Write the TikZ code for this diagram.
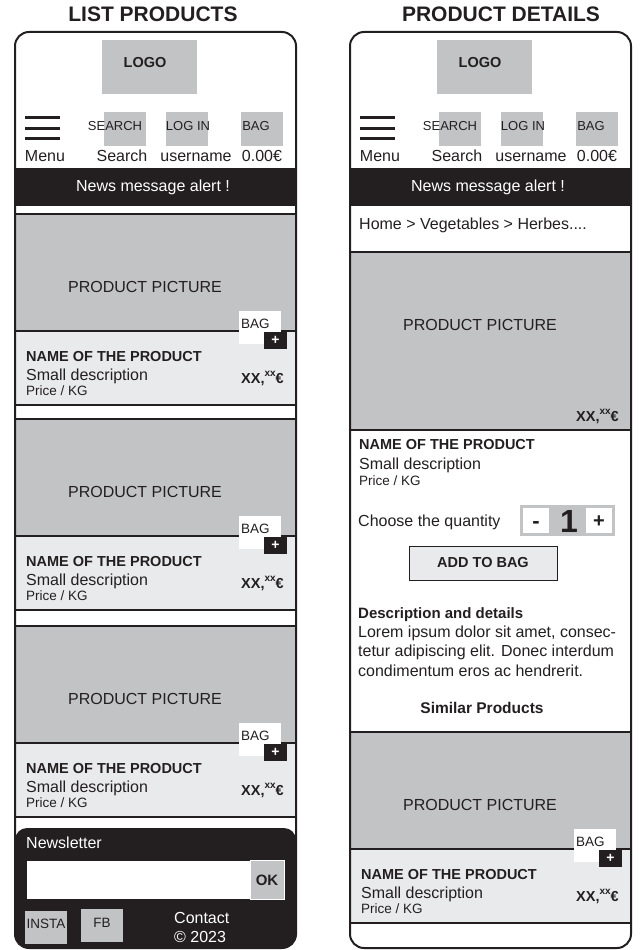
\documentclass[tikz,border=0pt]{standalone}
\usepackage{fontspec}
\setmainfont{Liberation Sans}
\usetikzlibrary{positioning}

\definecolor{ink}{HTML}{231F20}
\definecolor{boxgray}{HTML}{C2C3C5}
\definecolor{infogray}{HTML}{E9EAEC}

\newcommand{\fsz}[1]{\fontsize{#1}{#1}\selectfont}
\newcommand{\pricetag}{XX,\raisebox{0.45em}{\fsz{10}xx}€}

\begin{document}
\begin{tikzpicture}[x=1pt, y=-1pt,
    txt/.style={inner sep=0pt, text=ink, font=\fsz{16}},
    smalltxt/.style={txt, font=\fsz{13.5}},
    boldtxt/.style={txt, font=\fsz{14.5}\bfseries},
    title/.style={txt, font=\fsz{21}\bfseries},
    sepline/.style={draw=ink, line width=1.2pt},
    frame/.style={draw=ink, line width=2pt, rounded corners=14pt},
    plusbox/.style={fill=ink, text=white, inner sep=0pt, minimum width=23pt, minimum height=17pt, font=\fsz{14}\bfseries}
  ]
  \useasboundingbox (0,0) rectangle (643,950);

  \node[title, anchor=base] (titlel) at (153,22) {LIST PRODUCTS};
  \node[title, anchor=base] (titler) at (501,22) {PRODUCT DETAILS};

  % header of both screens
  \foreach \dx/\p in {0/l,335/r} {
    \fill[boxgray] (102+\dx,40) rectangle (197+\dx,94);
    \node[txt, anchor=base, font=\fsz{14.5}\bfseries] (logo\p) at (145+\dx,67) {LOGO};
    \foreach \y in {117,128,138}
      \draw[ink, line width=3pt] (25+\dx,\y) -- (60+\dx,\y);
    \fill[boxgray] (104+\dx,112) rectangle (146+\dx,146);
    \fill[boxgray] (166+\dx,112) rectangle (208+\dx,146);
    \fill[boxgray] (241+\dx,112) rectangle (283+\dx,146);
    \node[txt, anchor=base, font=\fsz{13}] (search\p) at (115+\dx,130) {SEARCH};
    \node[txt, anchor=base, font=\fsz{13}] (login\p) at (188+\dx,130) {LOG IN};
    \node[txt, anchor=base, font=\fsz{13}] (bag\p) at (256+\dx,130) {BAG};
    \node[txt, anchor=base] (menu\p) at (45+\dx,161) {Menu};
    \node[txt, anchor=base] (searchlbl\p) at (122+\dx,161) {Search};
    \node[txt, anchor=base] (user\p) at (196+\dx,161) {username};
    \node[txt, anchor=base] (total\p) at (262+\dx,161) {0.00€};
    \fill[ink] (15+\dx,168) rectangle (296+\dx,206);
    \node[txt, anchor=base, text=white] (news\p) at (153+\dx,191) {News message alert !};
  }

  % product cards
  \foreach \dx/\b/\n in {0/214/1,0/419/2,0/626/3,335/732/4} {
    \fill[boxgray] (15+\dx,\b) rectangle (296+\dx,\b+117);
    \fill[infogray] (15+\dx,\b+117) rectangle (296+\dx,\b+191);
    \draw[sepline] (15+\dx,\b) -- (296+\dx,\b);
    \draw[sepline] (15+\dx,\b+117) -- (296+\dx,\b+117);
    \draw[sepline] (15+\dx,\b+191) -- (296+\dx,\b+191);
    \node[txt, anchor=base] (pic\n) at (145+\dx,\b+78) {PRODUCT PICTURE};
    \fill[white] (239+\dx,\b+97) rectangle (281+\dx,\b+130);
    \node[smalltxt, anchor=base west] (bagbtn\n) at (241+\dx,\b+114) {BAG};
    \node[plusbox] (plus\n) at (275.5+\dx,\b+126.5) {+};
    \node[boldtxt, anchor=base west] (name\n) at (26+\dx,\b+147) {NAME OF THE PRODUCT};
    \node[txt, anchor=base west] (desc\n) at (26+\dx,\b+166) {Small description};
    \node[smalltxt, anchor=base west] (kg\n) at (26+\dx,\b+181) {Price / KG};
    \node[boldtxt, anchor=base east] (price\n) at (284+\dx,\b+169) {\pricetag};
  }

  % footer of the list
  \fill[ink, rounded corners=12pt] (15,828) rectangle (296,948);
  \node[txt, anchor=base west, text=white] (newsletter) at (26,848) {Newsletter};
  \fill[white] (27,861) rectangle (250,899);
  \filldraw[fill=boxgray, draw=white, line width=1pt] (250,860) rectangle (284,899);
  \node[txt, anchor=base, font=\fsz{15}\bfseries] (ok) at (267,885) {OK};
  \fill[boxgray] (25,911) rectangle (67,944);
  \fill[boxgray] (81,909) rectangle (123,942);
  \node[smalltxt, anchor=base] (insta) at (46,928) {INSTA};
  \node[smalltxt, anchor=base] (fb) at (102,927) {FB};
  \node[txt, anchor=base west, text=white] (contact) at (174,923) {Contact};
  \node[txt, anchor=base west, text=white] (copy) at (174,942) {© 2023};

  % details screen
  \node[txt, anchor=base west] (crumbs) at (359,229) {Home > Vegetables > Herbes....};
  \fill[boxgray] (350,252) rectangle (631,430);
  \draw[sepline] (350,252) -- (631,252);
  \draw[sepline] (350,430) -- (631,430);
  \node[txt, anchor=base] (bigpic) at (480,330) {PRODUCT PICTURE};
  \node[boldtxt, anchor=base east] (bigprice) at (619,421) {\pricetag};
  \node[boldtxt, anchor=base west] (bigname) at (359,449) {NAME OF THE PRODUCT};
  \node[txt, anchor=base west] (bigdesc) at (359,469) {Small description};
  \node[smalltxt, anchor=base west] (bigkg) at (359,485) {Price / KG};
  \node[txt, anchor=base west] (choose) at (358,526) {Choose the quantity};
  \fill[boxgray] (520,505) rectangle (615,536);
  \fill[white] (523,508) rectangle (549,533);
  \fill[white] (586,508) rectangle (612,533);
  \node[txt, anchor=base, font=\fsz{22}\bfseries] (minus) at (536,528) {-};
  \node[txt, anchor=base, font=\fsz{32}\bfseries] (qty) at (569,532) {1};
  \node[txt, anchor=base, font=\fsz{20}\bfseries] (plusq) at (599,527) {+};
  \node[boldtxt, draw=ink, line width=1pt, fill=infogray, minimum width=148pt, minimum height=34pt] (addbag) at (483,563) {ADD TO BAG};
  \node[txt, anchor=base west, font=\fsz{15}\bfseries] (details) at (358,618) {Description and details};
  \foreach \t [count=\k] in {{Lorem ipsum dolor sit amet, consec-},{tetur adipiscing elit. Donec interdum},{condimentum eros ac hendrerit.}}
    \node[txt, anchor=base west] (lorem\k) at (358,617.5+19.5*\k) {\t};
  \node[txt, anchor=base, font=\fsz{15.5}\bfseries] (similar) at (482,713) {Similar Products};

  % screen outlines
  \draw[frame] (15,32) rectangle (296,948);
  \draw[frame] (350,32) rectangle (631,948);
\end{tikzpicture}
\end{document}
